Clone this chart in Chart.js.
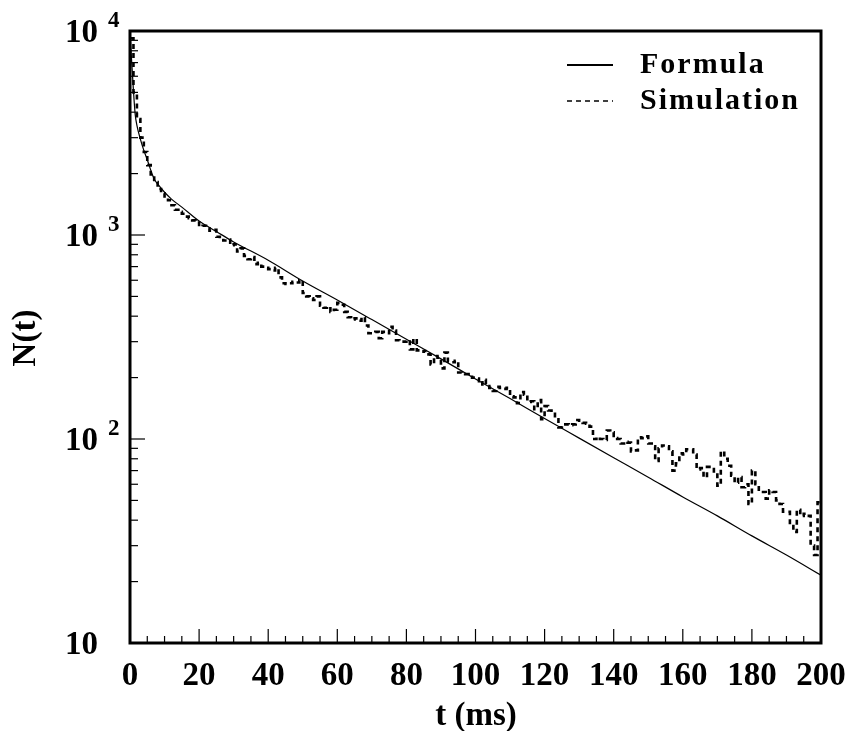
<!DOCTYPE html>
<html>
<head>
<meta charset="utf-8">
<script src="https://cdn.jsdelivr.net/npm/chart.js@4.4.0/dist/chart.umd.min.js"></script>
<style>
    html, body { margin: 0; padding: 0; background: #fff; }
    #wrap { width: 849px; height: 731px; }
</style>
</head>
<body>
<div id="wrap"><canvas id="decay"></canvas></div>
<script>
// Formula curve
var formulaT = [0, 0.5, 1, 1.5, 2, 3, 4, 5, 6, 7, 8, 10, 12, 15, 20, 25, 30, 40, 50, 60,
    70, 80, 90, 100, 110, 120, 130, 140, 150, 160, 170, 180, 190, 200];
var formulaN = [9900, 7000, 5100, 3900, 3450, 2950, 2600, 2340, 2080, 1880, 1780, 1620, 1500, 1370, 1170, 1040, 925, 752, 595, 480,
    385, 308, 247, 197, 158, 126, 101, 81, 65, 52, 42, 33.5, 27, 21.5];

// Simulation histogram, 1 ms bins starting at t = 0
var simBinWidth = 1;
var simCounts = [
    9200, 5000, 3700, 3000, 2550, 2200, 1950, 1820, 1680, 1600,
    1520, 1480, 1400, 1330, 1300, 1270, 1230, 1210, 1180, 1150,
    1100, 1110, 1080, 1050, 1060, 980, 960, 940, 950, 890,
    900, 830, 860, 790, 760, 780, 720, 730, 700, 690,
    680, 670, 690, 620, 580, 575, 580, 590, 585, 600,
    520, 500, 490, 480, 500, 450, 440, 445, 420, 430,
    465, 455, 420, 395, 385, 390, 380, 395, 360, 330,
    330, 335, 312, 335, 330, 355, 340, 305, 300, 300,
    305, 275, 310, 272, 268, 270, 260, 232, 255, 250,
    222, 265, 240, 238, 242, 212, 210, 208, 205, 200,
    198, 185, 195, 182, 178, 172, 180, 178, 176, 178,
    162, 160, 150, 170, 165, 152, 153, 140, 155, 125,
    145, 138, 135, 125, 114, 116, 118, 117, 118, 124,
    123, 120, 119, 115, 100, 102, 100, 99, 110, 108,
    101, 100, 95, 97, 96, 87, 88, 102, 101, 103,
    95, 92, 78, 90, 93, 92, 87, 70, 76, 85,
    84, 89, 89, 84, 71, 72, 65, 73, 73, 68,
    59, 87, 80, 74, 66, 61, 65, 58, 60, 48,
    70, 60, 55, 55, 51, 56, 55, 50, 48, 44,
    44, 38, 35, 45, 42, 43, 42, 30, 27, 49
];

// Axis ticks
var xMajorTicks = [0, 20, 40, 60, 80, 100, 120, 140, 160, 180, 200];
var yMajorTicks = [10, 100, 1000, 10000];
var yTickExps = ['', '2', '3', '4'];

var serif = '"Liberation Serif", "DejaVu Serif", serif';

var formulaPoints = formulaT.map(function(t, i) { return { x: t, y: formulaN[i] }; });
var simPoints = simCounts.map(function(n, i) { return { x: i * simBinWidth, y: n }; });
// closing edge of the last bin
simPoints.push({ x: simCounts.length * simBinWidth, y: simCounts[simCounts.length - 1] });

var framePlugin = {
    id: 'frame',
    afterDatasetsDraw: function(chart) {
        var ctx = chart.ctx;
        var a = chart.chartArea;
        var xs = chart.scales.x;
        var ys = chart.scales.y;
        ctx.save();
        ctx.strokeStyle = '#000';
        ctx.fillStyle = '#000';

        // x ticks, pointing inward
        ctx.lineWidth = 1.2;
        for (var t = 0; t <= 200; t += 5) {
            var px = xs.getPixelForValue(t);
            var len = (xMajorTicks.indexOf(t) >= 0) ? 14 : 7;
            ctx.beginPath();
            ctx.moveTo(px, a.bottom);
            ctx.lineTo(px, a.bottom - len);
            ctx.stroke();
        }

        // y log ticks
        for (var d = 0; d < yMajorTicks.length; d++) {
            var base = yMajorTicks[d];
            var py = ys.getPixelForValue(base);
            ctx.beginPath();
            ctx.moveTo(a.left, py);
            ctx.lineTo(a.left + 15, py);
            ctx.stroke();
            if (d < yMajorTicks.length - 1) {
                for (var m = 2; m <= 9; m++) {
                    var pm = ys.getPixelForValue(base * m);
                    ctx.beginPath();
                    ctx.moveTo(a.left, pm);
                    ctx.lineTo(a.left + 8, pm);
                    ctx.stroke();
                }
            }
        }

        // frame
        ctx.lineWidth = 3;
        ctx.strokeRect(a.left, a.top, a.right - a.left, a.bottom - a.top);

        // y labels: 10 with superscript exponent
        for (var k = 0; k < yMajorTicks.length; k++) {
            var ly = ys.getPixelForValue(yMajorTicks[k]);
            ctx.font = 'bold 33px ' + serif;
            ctx.textAlign = 'left';
            ctx.textBaseline = 'middle';
            ctx.fillText('10', 65, ly + 2);
            if (yTickExps[k]) {
                ctx.font = 'bold 23px ' + serif;
                ctx.textBaseline = 'alphabetic';
                ctx.fillText(yTickExps[k], 108, ly - 4);
            }
        }

        // axis titles
        ctx.font = 'bold 33px ' + serif;
        ctx.textAlign = 'center';
        ctx.textBaseline = 'middle';
        ctx.fillText('t (ms)', 476, 716);
        ctx.save();
        ctx.translate(26, 338);
        ctx.rotate(-Math.PI / 2);
        ctx.fillText('N(t)', 0, 0);
        ctx.restore();

        // legend
        ctx.lineWidth = 2;
        ctx.beginPath();
        ctx.moveTo(567, 65);
        ctx.lineTo(613, 65);
        ctx.stroke();
        ctx.lineWidth = 1.6;
        ctx.setLineDash([5, 4]);
        ctx.beginPath();
        ctx.moveTo(567, 101);
        ctx.lineTo(613, 101);
        ctx.stroke();
        ctx.setLineDash([]);
        ctx.font = 'bold 30px ' + serif;
        ctx.textAlign = 'left';
        ctx.textBaseline = 'middle';
        ctx.letterSpacing = '2px';
        ctx.fillText('Formula', 640, 65);
        ctx.fillText('Simulation', 640, 101);

        ctx.restore();
    }
};

var ctx = document.getElementById('decay').getContext('2d');
var decayChart = new Chart(ctx, {
    type: 'line',
    data: {
        datasets: [{
            label: 'Formula',
            data: formulaPoints,
            borderColor: '#000',
            borderWidth: 1.2,
            pointRadius: 0,
            cubicInterpolationMode: 'monotone',
            fill: false
        }, {
            label: 'Simulation',
            data: simPoints,
            borderColor: '#000',
            borderWidth: 2.6,
            borderDash: [5, 4],
            pointRadius: 0,
            stepped: 'before',
            fill: false
        }]
    },
    options: {
        responsive: true,
        maintainAspectRatio: false,
        animation: false,
        layout: {
            padding: { top: 31, right: 28, left: 0, bottom: 0 }
        },
        plugins: {
            legend: { display: false },
            tooltip: { enabled: false }
        },
        scales: {
            x: {
                type: 'linear',
                min: 0,
                max: 200,
                grid: { display: false, drawTicks: false },
                border: { display: false },
                ticks: {
                    stepSize: 20,
                    padding: 14,
                    color: '#000',
                    maxRotation: 0,
                    font: { family: serif, size: 33, weight: 'bold' }
                },
                afterFit: function(scale) {
                    scale.height = 88;
                    // let the end labels overhang the plot area
                    scale.paddingLeft = 0;
                    scale.paddingRight = 0;
                }
            },
            y: {
                type: 'logarithmic',
                min: 10,
                max: 10000,
                grid: { display: false, drawTicks: false },
                border: { display: false },
                ticks: { display: false },
                afterFit: function(scale) { scale.width = 130; }
            }
        }
    },
    plugins: [framePlugin]
});
</script>
</body>
</html>
